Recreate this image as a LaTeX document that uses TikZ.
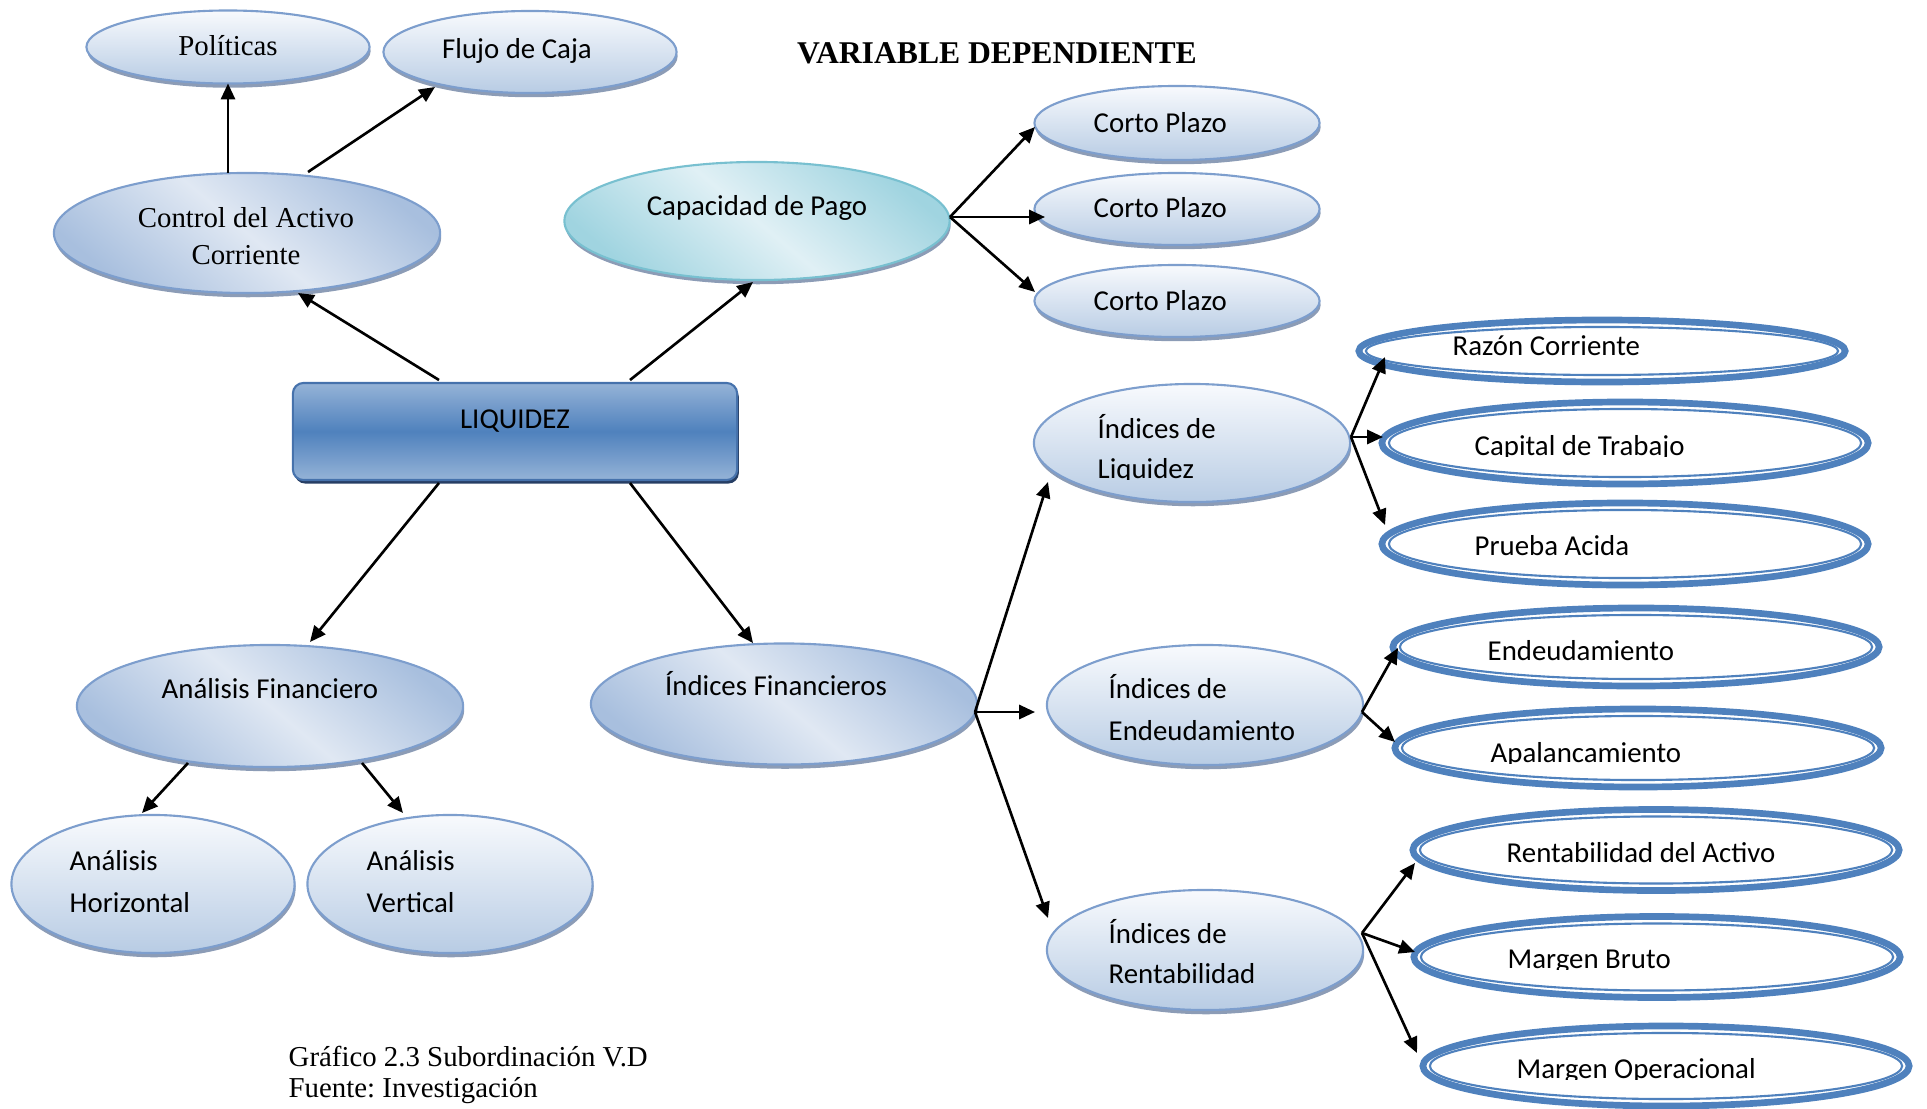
\documentclass[tikz,border=0pt]{standalone}
\usepackage{fontspec}
\setmainfont{Liberation Serif}
\newfontfamily\calfont{Carlito}
\usetikzlibrary{shapes.geometric,arrows.meta,calc,shadows}

\definecolor{ovline}{RGB}{125,158,205}
\definecolor{ovtop}{RGB}{248,250,253}
\definecolor{ovbot}{RGB}{184,204,228}
\definecolor{ovin}{RGB}{224,232,243}
\definecolor{ovout}{RGB}{168,191,222}
\definecolor{ovshadow}{RGB}{140,156,182}
\definecolor{cyline}{RGB}{120,192,208}
\definecolor{cyin}{RGB}{224,240,245}
\definecolor{cyout}{RGB}{160,212,224}
\definecolor{liqlight}{RGB}{149,179,215}
\definecolor{liqmid}{RGB}{79,129,189}
\definecolor{liqline}{RGB}{70,114,172}
\definecolor{liqshadow}{RGB}{38,62,100}
\definecolor{dblue}{RGB}{79,129,189}

\tikzset{
  ovbase/.style={ellipse, inner sep=0pt, outer sep=0pt, line width=0.6pt,
    general shadow={fill=ovshadow, shadow xshift=0.3pt, shadow yshift=-1.2pt}},
  ovlight/.style={ovbase, draw=ovline, top color=ovtop, bottom color=ovbot},
  ovdeep/.style={ovbase, draw=ovline, top color=ovout, bottom color=ovout,
    middle color=ovin, shading angle=-40},
  ovcyan/.style={ovbase, draw=cyline, top color=cyout, bottom color=cyout,
    middle color=cyin, shading angle=-40},
  liqbox/.style={rectangle, rounded corners=3pt, inner sep=0pt, draw=liqline,
    line width=0.6pt, top color=liqlight, bottom color=liqlight, middle color=liqmid,
    general shadow={fill=liqshadow, shadow xshift=0.5pt, shadow yshift=-1pt}},
  dblout/.style={ellipse, inner sep=0pt, outer sep=0pt, draw=dblue, line width=1.9pt, fill=white},
  dblin/.style={draw=dblue, line width=0.6pt},
  tcal/.style={font=\calfont\fontsize{8.2}{10}\selectfont, inner sep=0pt},
  ttim/.style={font=\fontsize{8.2}{10}\selectfont, inner sep=0pt},
  arr/.style={-{Triangle[length=4.5pt,width=4pt]}, line width=0.75pt, black},
}

\begin{document}
\begin{tikzpicture}[x=0.01cm, y=-0.01cm]
\useasboundingbox (0,0) rectangle (1927,1109);

% ---- title ----
\node[font=\bfseries\fontsize{9}{11}\selectfont, anchor=base, inner sep=0pt] (title) at (997,63) {VARIABLE DEPENDIENTE};

% ---- upper left branch ----
\node[ovlight, minimum width=2.83cm, minimum height=0.73cm] (pol) at (228,47) {};
\node[ttim, anchor=base] (pol-t) at (228,55) {Políticas};
\node[ovlight, minimum width=2.93cm, minimum height=0.82cm] (flu) at (530,52) {};
\node[tcal, anchor=base] (flu-t) at (517,58) {Flujo de Caja};
\node[ovdeep, minimum width=3.86cm, minimum height=1.20cm] (ctrl) at (247,233) {};
\node[ttim, anchor=base] (ctrl-1) at (246,227) {Control del Activo};
\node[ttim, anchor=base] (ctrl-2) at (246,264) {Corriente};

% ---- capacidad de pago ----
\node[ovcyan, minimum width=3.85cm, minimum height=1.18cm] (cap) at (757,221) {};
\node[tcal, anchor=base] (cap-t) at (757,215) {Capacidad de Pago};
\node[ovlight, minimum width=2.85cm, minimum height=0.74cm] (cp1) at (1177,123) {};
\node[tcal, anchor=base west] (cp1-t) at (1093,132) {Corto Plazo};
\node[ovlight, minimum width=2.85cm, minimum height=0.72cm] (cp2) at (1177,209) {};
\node[tcal, anchor=base west] (cp2-t) at (1093,217) {Corto Plazo};
\node[ovlight, minimum width=2.85cm, minimum height=0.72cm] (cp3) at (1177,301) {};
\node[tcal, anchor=base west] (cp3-t) at (1093,310) {Corto Plazo};

% ---- central box ----
\node[liqbox, minimum width=4.44cm, minimum height=0.97cm] (liq) at (515,431.5) {};
\node[tcal, anchor=base] (liq-t) at (515,428) {LIQUIDEZ};

% ---- lower left branch ----
\node[ovdeep, minimum width=3.86cm, minimum height=1.22cm] (anf) at (270,706) {};
\node[tcal, anchor=base] (anf-t) at (270,698) {Análisis Financiero};
\node[ovlight, minimum width=2.83cm, minimum height=1.38cm] (ahz) at (153,884) {};
\node[tcal, anchor=base west] (ahz-1) at (69,870) {Análisis};
\node[tcal, anchor=base west] (ahz-2) at (69,912) {Horizontal};
\node[ovlight, minimum width=2.85cm, minimum height=1.38cm] (aver) at (450,884) {};
\node[tcal, anchor=base west] (aver-1) at (366,870) {Análisis};
\node[tcal, anchor=base west] (aver-2) at (366,912) {Vertical};

% ---- financial ratios ----
\node[ovdeep, minimum width=3.86cm, minimum height=1.21cm] (ifin) at (784,704) {};
\node[tcal, anchor=base] (ifin-t) at (776,695) {Índices Financieros};

\node[ovlight, minimum width=3.16cm, minimum height=1.18cm] (ili) at (1192,443) {};
\node[tcal, anchor=base west] (ili-1) at (1097,438) {Índices de};
\begin{scope}
  \clip (1090,450) rectangle (1300,479.5);
  \node[tcal, anchor=base west] (ili-2) at (1097,478) {Liquidez};
\end{scope}
\node[ovlight, minimum width=3.16cm, minimum height=1.20cm] (ien) at (1205,705) {};
\node[tcal, anchor=base west] (ien-1) at (1108,698) {Índices de};
\node[tcal, anchor=base west] (ien-2) at (1108,740) {Endeudamiento};
\node[ovlight, minimum width=3.16cm, minimum height=1.20cm] (ire) at (1205,950) {};
\node[tcal, anchor=base west] (ire-1) at (1108,943) {Índices de};
\node[tcal, anchor=base west] (ire-2) at (1108,983) {Rentabilidad};

% ---- double-outlined ratio ovals ----
\node[dblout, minimum width=4.86cm, minimum height=0.62cm] (raz) at (1602,351) {};
\draw[dblin] (raz.center) ellipse [x radius=2.36cm, y radius=0.24cm];
\node[tcal, anchor=base west] (raz-t) at (1452,355) {Razón Corriente};

\node[dblout, minimum width=4.86cm, minimum height=0.82cm] (ctb) at (1625,443) {};
\draw[dblin] (ctb.center) ellipse [x radius=2.36cm, y radius=0.34cm];
\begin{scope}
  \clip (1460,420) rectangle (1800,456.5);
  \node[tcal, anchor=base west] (ctb-t) at (1474,455) {Capital de Trabajo};
\end{scope}

\node[dblout, minimum width=4.86cm, minimum height=0.82cm] (pru) at (1625,544) {};
\draw[dblin] (pru.center) ellipse [x radius=2.36cm, y radius=0.34cm];
\node[tcal, anchor=base west] (pru-t) at (1474,555) {Prueba Acida};

\node[dblout, minimum width=4.86cm, minimum height=0.78cm] (ende) at (1636,647) {};
\draw[dblin] (ende.center) ellipse [x radius=2.36cm, y radius=0.32cm];
\node[tcal, anchor=base west] (ende-t) at (1487,660) {Endeudamiento};

\node[dblout, minimum width=4.86cm, minimum height=0.78cm] (apa) at (1638,748) {};
\draw[dblin] (apa.center) ellipse [x radius=2.36cm, y radius=0.32cm];
\begin{scope}
  \clip (1480,720) rectangle (1800,763.5);
  \node[tcal, anchor=base west] (apa-t) at (1490,762) {Apalancamiento};
\end{scope}

\node[dblout, minimum width=4.86cm, minimum height=0.81cm] (rac) at (1656,850) {};
\draw[dblin] (rac.center) ellipse [x radius=2.36cm, y radius=0.335cm];
\node[tcal, anchor=base west] (rac-t) at (1506,862) {Rentabilidad del Activo};

\node[dblout, minimum width=4.86cm, minimum height=0.81cm] (mbr) at (1657,957) {};
\draw[dblin] (mbr.center) ellipse [x radius=2.36cm, y radius=0.335cm];
\begin{scope}
  \clip (1495,930) rectangle (1800,969.5);
  \node[tcal, anchor=base west] (mbr-t) at (1507,968) {Margen Bruto};
\end{scope}

\node[dblout, minimum width=4.86cm, minimum height=0.80cm] (mop) at (1666,1066) {};
\draw[dblin] (mop.center) ellipse [x radius=2.36cm, y radius=0.33cm];
\begin{scope}
  \clip (1500,1040) rectangle (1850,1079.5);
  \node[tcal, anchor=base west] (mop-t) at (1516,1078) {Margen Operacional};
\end{scope}

% ---- caption ----
\node[ttim, anchor=base west] (fig-1) at (288,1066) {Gráfico 2.3 Subordinación V.D};
\node[ttim, anchor=base west] (fig-2) at (288,1097) {Fuente:\ Investigación};

% ---- connectors ----
\draw[arr] (ctrl.north -| pol.south) -- (pol.south);
\draw[arr] ($(ctrl)+(61,-61)$) -- ($(flu)+(-95,35)$);
\draw[arr] ($(liq)+(-76,-51.5)$) -- ($(ctrl)+(51,60)$);
\draw[arr] ($(liq)+(115,-51.5)$) -- ($(cap)+(-4,61)$);
\draw[arr] ($(liq)+(-76,51.5)$) -- ($(anf)+(40,-64)$);
\draw[arr] ($(liq)+(115,51.5)$) -- ($(ifin)+(-31,-61)$);

\draw[arr] ($(cap)+(193,-4)$) -- ($(cp1)+(-142,4)$);
\draw[arr] ($(cap)+(193,-4)$) -- ($(cp2)+(-132,8)$);
\draw[arr] ($(cap)+(193,-4)$) -- ($(cp3)+(-142,-9)$);

\draw[arr] ($(anf)+(-82,57)$) -- ($(ahz)+(-11,-71)$);
\draw[arr] ($(anf)+(92,57)$) -- ($(aver)+(-47,-71)$);

\draw[arr] ($(ifin)+(191,8)$) -- ($(ili)+(-144,39)$);
\draw[arr] ($(ifin)+(191,8)$) -- ($(ien)+(-170,7)$);
\draw[arr] ($(ifin)+(191,8)$) -- ($(ire)+(-157,-32)$);

\draw[arr] ($(ili)+(159,-6)$) -- ($(raz)+(-217,6)$);
\draw[arr] ($(ili)+(159,-6)$) -- ($(ctb)+(-242,-6)$);
\draw[arr] ($(ili)+(159,-6)$) -- ($(pru)+(-240,-19)$);

\draw[arr] ($(ien)+(157,7)$) -- ($(ende)+(-238,1)$);
\draw[arr] ($(ien)+(157,7)$) -- ($(apa)+(-243,-6)$);

\draw[arr] ($(ire)+(157,-17)$) -- ($(rac)+(-241,13)$);
\draw[arr] ($(ire)+(157,-17)$) -- ($(mbr)+(-242,-5)$);
\draw[arr] ($(ire)+(157,-17)$) -- ($(mop)+(-249,-13)$);
\end{tikzpicture}
\end{document}
